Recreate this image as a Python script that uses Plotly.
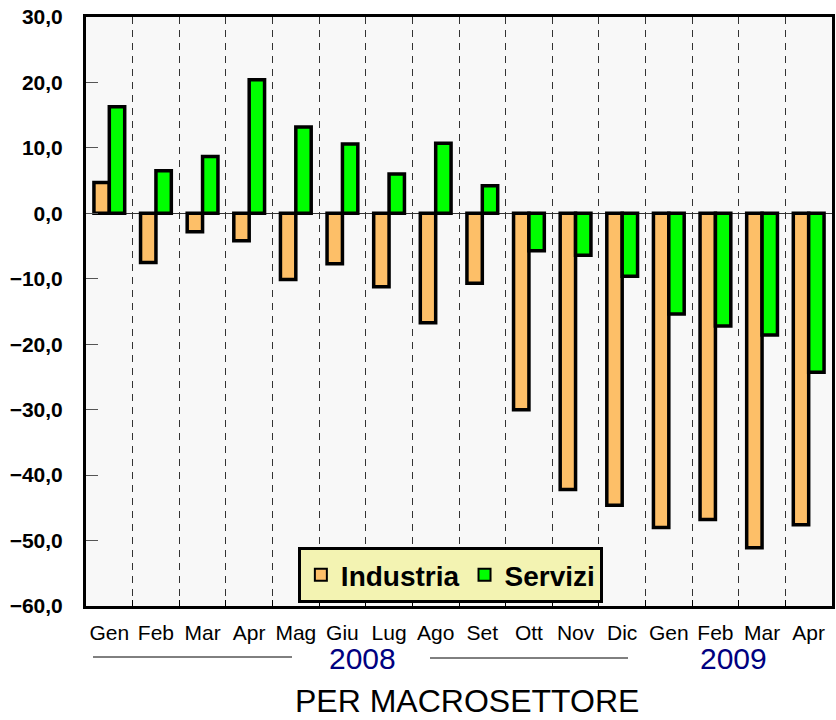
import plotly.graph_objects as go

categories = ["Gen 2008", "Feb 2008", "Mar 2008", "Apr 2008", "Mag 2008", "Giu 2008",
              "Lug 2008", "Ago 2008", "Set 2008", "Ott 2008", "Nov 2008", "Dic 2008",
              "Gen 2009", "Feb 2009", "Mar 2009", "Apr 2009"]
month_labels = ["Gen", "Feb", "Mar", "Apr", "Mag", "Giu", "Lug", "Ago", "Set",
                "Ott", "Nov", "Dic", "Gen", "Feb", "Mar", "Apr"]
industria = [4.7, -7.5, -2.8, -4.2, -10.1, -7.7, -11.2, -16.7, -10.7,
             -30.0, -42.2, -44.6, -48.0, -46.8, -51.1, -47.6]
servizi = [16.3, 6.5, 8.7, 20.4, 13.2, 10.6, 6.0, 10.7, 4.2,
           -5.7, -6.4, -9.6, -15.4, -17.2, -18.6, -24.3]
y_ticks = [30, 20, 10, 0, -10, -20, -30, -40, -50, -60]
years = ["2008", "2009"]
title_text = "PER MACROSETTORE"

FONT = "Liberation Sans, Arial, sans-serif"

fig = go.Figure()
fig.add_trace(go.Bar(x=categories, y=industria, name="Industria",
                     marker=dict(color="#FDBF68", line=dict(color="black", width=3.5))))
fig.add_trace(go.Bar(x=categories, y=servizi, name="Servizi",
                     marker=dict(color="#00FF00", line=dict(color="black", width=3.5))))

fig.update_layout(
    width=836, height=720,
    margin=dict(l=86, r=4, t=17, b=114),
    paper_bgcolor="white", plot_bgcolor="#F8F8F8",
    barmode="group", bargap=0.34, bargroupgap=0.0,
    separators=",.",
    font=dict(family=FONT, color="black"),
    showlegend=True,
    legend=dict(orientation="h", x=0.284, y=0.100, xanchor="left", yanchor="top",
                bgcolor="#F3F3B2", bordercolor="black", borderwidth=3,
                font=dict(family=FONT, size=28, color="black", weight="bold"),
                itemsizing="constant", tracegroupgap=0),
)

fig.update_xaxes(type="category", tickmode="array", tickvals=categories, ticktext=month_labels,
                 tickson="boundaries", ticks="inside", ticklen=6, tickcolor="black",
                 showgrid=True, gridcolor="#333333", gridwidth=1, griddash="7px,6px",
                 showline=True, linecolor="black", linewidth=3, mirror=True,
                 tickfont=dict(family=FONT, size=21, color="black"), tickangle=0,
                 ticklabelstandoff=6, automargin=False)
fig.update_yaxes(range=[-60, 30], tickmode="array", tickvals=y_ticks, tickformat=".1f",
                 ticks="inside", ticklen=12, tickcolor="#555555", tickwidth=1,
                 showgrid=False, zeroline=True, zerolinecolor="#333333", zerolinewidth=1,
                 showline=True, linecolor="black", linewidth=3, mirror=True,
                 tickfont=dict(family=FONT, size=21, color="black", weight="bold"),
                 ticklabelstandoff=16, automargin=False)

# year labels and separator lines
fig.add_annotation(text=years[0], x=(362 - 86) / 746, y=(606 - 658) / 589, xref="paper", yref="paper",
                   showarrow=False, font=dict(family=FONT, size=30, color="#000080"),
                   xanchor="center", yanchor="middle")
fig.add_annotation(text=years[1], x=(733 - 86) / 746, y=(606 - 658) / 589, xref="paper", yref="paper",
                   showarrow=False, font=dict(family=FONT, size=30, color="#000080"),
                   xanchor="center", yanchor="middle")
fig.add_shape(type="line", xref="paper", yref="paper",
              x0=(93 - 86) / 746, x1=(292 - 86) / 746, y0=(606 - 657) / 589, y1=(606 - 657) / 589,
              line=dict(color="black", width=1))
fig.add_shape(type="line", xref="paper", yref="paper",
              x0=(430 - 86) / 746, x1=(628 - 86) / 746, y0=(606 - 658) / 589, y1=(606 - 658) / 589,
              line=dict(color="black", width=1))
fig.add_annotation(text=title_text, x=(467 - 86) / 746, y=(606 - 701) / 589, xref="paper", yref="paper",
                   showarrow=False, font=dict(family=FONT, size=32, color="black"),
                   xanchor="center", yanchor="middle")

fig.write_html("out.html", config={"displayModeBar": False},
               post_script="document.body.style.margin='0';document.body.style.overflow='hidden';")
